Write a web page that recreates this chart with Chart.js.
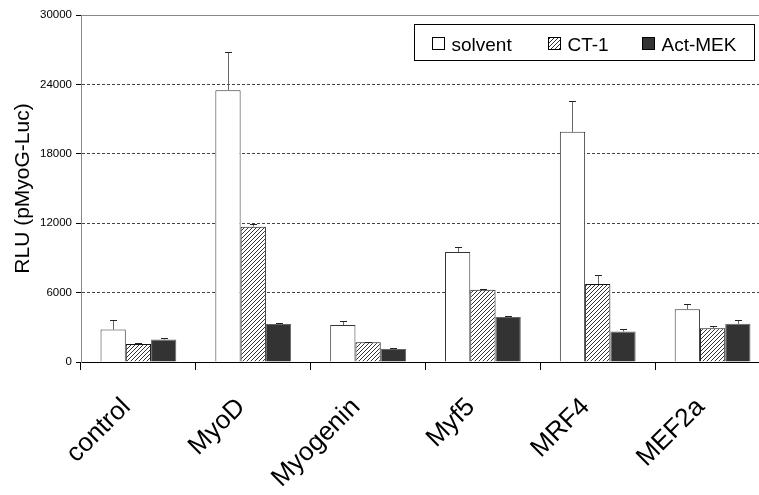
<!DOCTYPE html>
<html>
<head>
<meta charset="utf-8">
<script src="https://cdn.jsdelivr.net/npm/chart.js@4"></script>
<style>
html, body { margin: 0; padding: 0; background: #fff; overflow: hidden; }
</style>
</head>
<body>
<canvas id="chart" width="775" height="495"></canvas>
<script>
const categories = ['control', 'MyoD', 'Myogenin', 'Myf5', 'MRF4', 'MEF2a'];
const seriesNames = ['solvent', 'CT-1', 'Act-MEK'];

const solventValues = [2800, 23500, 3200, 9500, 19900, 4550];
const solventErrors = [820, 3300, 350, 470, 2700, 490];
const ct1Values = [1560, 11700, 1700, 6250, 6750, 2920];
const ct1Errors = [80, 200, 60, 100, 750, 230];
const mekValues = [1950, 3280, 1130, 3900, 2630, 3300];
const mekErrors = [130, 110, 60, 60, 200, 320];

const yMax = 30000;
const yStep = 6000;
const font = 'Liberation Sans, Arial, sans-serif';

function makeHatch() {
	let c = document.createElement('canvas');
	c.width = 4;
	c.height = 4;
	let g = c.getContext('2d');
	g.fillStyle = '#fff';
	g.fillRect(0, 0, 4, 4);
	g.strokeStyle = '#333';
	g.lineWidth = 1;
	g.beginPath();
	g.moveTo(0, 4); g.lineTo(4, 0);
	g.moveTo(-1, 1); g.lineTo(1, -1);
	g.moveTo(3, 5); g.lineTo(5, 3);
	g.stroke();
	return g.createPattern(c, 'repeat');
}

const hatch = makeHatch();

// upward error bars from each bar top
const errorBars = {
	id: 'errorBars',
	afterDatasetsDraw(chart) {
		let ctx = chart.ctx;
		let y = chart.scales.y;
		ctx.save();
		chart.data.datasets.forEach((ds, i) => {
			let meta = chart.getDatasetMeta(i);
			meta.data.forEach((bar, j) => {
				let top = Math.round(y.getPixelForValue(ds.data[j] + ds.errors[j])) + 0.5;
				let x = Math.round(bar.x) + 0.5;
				ctx.strokeStyle = '#666';
				ctx.lineWidth = 1;
				ctx.beginPath();
				ctx.moveTo(x, bar.y);
				ctx.lineTo(x, top);
				ctx.stroke();
				ctx.strokeStyle = '#222';
				ctx.beginPath();
				ctx.moveTo(x - 3.5, top);
				ctx.lineTo(x + 3.5, top);
				ctx.stroke();
			});
		});
		ctx.restore();
	}
};

// boxed legend inside the plot, top right
const boxLegend = {
	id: 'boxLegend',
	afterDraw(chart) {
		let ctx = chart.ctx;
		let left = 414.5, top = 24.5, w = 340, h = 36;
		let offsets = [17, 133, 227];
		ctx.save();
		ctx.fillStyle = '#fff';
		ctx.fillRect(left, top, w, h);
		ctx.strokeStyle = '#000';
		ctx.lineWidth = 1;
		ctx.strokeRect(left, top, w, h);
		ctx.font = '19px ' + font;
		ctx.textBaseline = 'alphabetic';
		chart.data.datasets.forEach((ds, i) => {
			let sx = Math.round(left + offsets[i]) + 0.5;
			let sy = 37.5;
			ctx.fillStyle = ds.backgroundColor;
			ctx.fillRect(sx, sy, 12, 12);
			ctx.strokeStyle = '#000';
			ctx.strokeRect(sx, sy, 12, 12);
			ctx.fillStyle = '#000';
			ctx.fillText(ds.label, sx + 19, 51);
		});
		ctx.restore();
	}
};

new Chart(document.getElementById('chart'), {
	type: 'bar',
	data: {
		labels: categories,
		datasets: [
			{
				label: seriesNames[0],
				data: solventValues,
				errors: solventErrors,
				backgroundColor: '#fff',
				borderColor: '#333',
				borderWidth: 1
			},
			{
				label: seriesNames[1],
				data: ct1Values,
				errors: ct1Errors,
				backgroundColor: hatch,
				borderColor: '#111',
				borderWidth: 1
			},
			{
				label: seriesNames[2],
				data: mekValues,
				errors: mekErrors,
				backgroundColor: '#333',
				borderColor: '#666',
				borderWidth: 1
			}
		]
	},
	options: {
		responsive: false,
		animation: false,
		categoryPercentage: 0.66,
		barPercentage: 1.0,
		layout: {
			padding: {top: 15, right: 5, left: 0, bottom: 0}
		},
		plugins: {
			legend: {display: false},
			tooltip: {enabled: false}
		},
		scales: {
			x: {
				afterFit: s => { s.height = 133; },
				grid: {
					offset: true,
					drawOnChartArea: false,
					tickLength: 8,
					tickColor: '#000'
				},
				border: {color: '#000', width: 1},
				ticks: {
					minRotation: 45,
					maxRotation: 45,
					padding: 22,
					labelOffset: -12,
					color: '#000',
					font: {family: font, size: 26}
				}
			},
			y: {
				min: 0,
				max: yMax,
				afterFit: s => { s.width = 81; },
				ticks: {
					stepSize: yStep,
					padding: 4,
					color: '#000',
					font: {family: font, size: 11.5},
					callback: v => String(v)
				},
				grid: {
					color: ctx => (ctx.tick && ctx.tick.value === 0) ? 'rgba(0,0,0,0)'
						: (ctx.tick && ctx.tick.value === yMax ? '#888' : '#444'),
					tickColor: '#000',
					tickLength: 5
				},
				border: {
					color: '#888',
					width: 1,
					dash: ctx => (ctx.tick && ctx.tick.value === yMax) ? [] : [3, 2]
				},
				title: {
					display: true,
					text: 'RLU (pMyoG-Luc)',
					color: '#000',
					padding: {top: 11, bottom: 0},
					font: {family: font, size: 21}
				}
			}
		}
	},
	plugins: [errorBars, boxLegend]
});
</script>
</body>
</html>
